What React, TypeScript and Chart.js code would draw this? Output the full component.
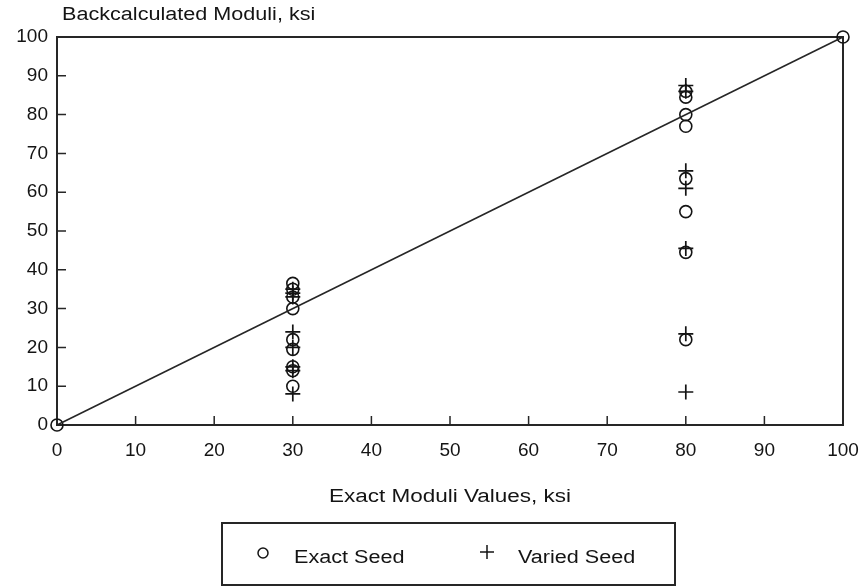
import React, { useEffect, useRef } from "react";
import { Chart, registerables } from "chart.js";

Chart.register(...registerables);

// ---- Data ----
const exactSeedCornerX = [0, 100];
const exactSeedCornerY = [0, 100];
const exactSeedAt30 = [36.5, 35, 33, 30, 22, 19.5, 15, 14, 10];
const variedSeedAt30 = [35, 34, 33, 24, 20, 15, 14, 8];
const exactSeedAt80 = [86, 84.5, 80, 77, 63.5, 55, 44.5, 22];
const variedSeedAt80 = [87.5, 86, 65.5, 61, 45.5, 23.5, 8.5];
const equalityLineX = [0, 100];
const equalityLineY = [0, 100];
const axisTicks = [10, 20, 30, 40, 50, 60, 70, 80, 90];

const xTitle = "Exact Moduli Values, ksi";
const yTitle = "Backcalculated Moduli, ksi";
const legendLabels = ["Exact Seed", "Varied Seed"];

const INK = "#141414";
const FONT = "'Liberation Sans', Arial, Helvetica, sans-serif";

function drawStretchedText(ctx: CanvasRenderingContext2D, text: string, x: number, y: number, size: number, sx: number, align: "left" | "center") {
  ctx.save();
  ctx.font = `${size}px ${FONT}`;
  ctx.fillStyle = INK;
  ctx.textBaseline = "middle";
  ctx.textAlign = "left";
  const w = ctx.measureText(text).width * sx;
  const left = align === "center" ? x - w / 2 : x;
  ctx.translate(left, y);
  ctx.scale(sx, 1);
  ctx.fillText(text, 0, 0);
  ctx.restore();
}

const framePlugin = {
  id: "frameAndTexts",
  beforeDatasetsDraw(chart: any) {
    const { ctx, chartArea, scales } = chart;
    ctx.save();
    ctx.strokeStyle = "#262626";
    ctx.lineWidth = 2;
    ctx.strokeRect(chartArea.left, chartArea.top, chartArea.right - chartArea.left, chartArea.bottom - chartArea.top);
    ctx.lineWidth = 1.5;
    ctx.beginPath();
    for (const v of axisTicks) {
      const px = scales.x.getPixelForValue(v);
      ctx.moveTo(px, chartArea.bottom);
      ctx.lineTo(px, chartArea.bottom - 9);
      const py = scales.y.getPixelForValue(v);
      ctx.moveTo(chartArea.left, py);
      ctx.lineTo(chartArea.left + 9, py);
    }
    ctx.stroke();
    ctx.restore();
  },
  afterDraw(chart: any) {
    const { ctx, chartArea } = chart;
    const cx = (chartArea.left + chartArea.right) / 2;
    drawStretchedText(ctx, yTitle, 62, 15, 18, 1.2, "left");
    drawStretchedText(ctx, xTitle, cx, 497, 18, 1.25, "center");

    // legend box
    ctx.save();
    ctx.strokeStyle = "#262626";
    ctx.lineWidth = 2;
    ctx.strokeRect(222, 523, 453, 62);
    ctx.lineWidth = 1.5;
    ctx.strokeStyle = INK;
    ctx.beginPath();
    ctx.arc(263, 553, 5, 0, Math.PI * 2);
    ctx.stroke();
    ctx.beginPath();
    ctx.moveTo(480, 552);
    ctx.lineTo(494, 552);
    ctx.moveTo(487, 545);
    ctx.lineTo(487, 559);
    ctx.stroke();
    ctx.restore();
    drawStretchedText(ctx, legendLabels[0], 294, 558, 18, 1.2, "left");
    drawStretchedText(ctx, legendLabels[1], 518, 558, 18, 1.2, "left");
  },
};

export default function App() {
  const canvasRef = useRef<HTMLCanvasElement | null>(null);

  useEffect(() => {
    if (!canvasRef.current) return;
    const exactSeed = [
      { x: exactSeedCornerX[0], y: exactSeedCornerY[0] },
      ...exactSeedAt30.map((y) => ({ x: 30, y })),
      ...exactSeedAt80.map((y) => ({ x: 80, y })),
      { x: exactSeedCornerX[1], y: exactSeedCornerY[1] },
    ];
    const variedSeed = [
      ...variedSeedAt30.map((y) => ({ x: 30, y })),
      ...variedSeedAt80.map((y) => ({ x: 80, y })),
    ];
    const line = equalityLineX.map((x, i) => ({ x, y: equalityLineY[i] }));

    const tickFont = { family: FONT, size: 19 };
    const chart = new Chart(canvasRef.current, {
      type: "scatter",
      data: {
        datasets: [
          {
            label: "Equality",
            data: line,
            showLine: true,
            borderColor: "#262626",
            borderWidth: 1.6,
            pointRadius: 0,
            clip: false,
          } as any,
          {
            label: legendLabels[0],
            data: exactSeed,
            pointStyle: "circle",
            pointRadius: 6,
            borderColor: INK,
            backgroundColor: "rgba(0,0,0,0)",
            borderWidth: 1.6,
            clip: false,
          } as any,
          {
            label: legendLabels[1],
            data: variedSeed,
            pointStyle: "cross",
            pointRadius: 7.5,
            borderColor: INK,
            borderWidth: 1.7,
            clip: false,
          } as any,
        ],
      },
      options: {
        responsive: false,
        animation: false,
        devicePixelRatio: 1,
        layout: { padding: { top: 37, right: 23, left: 0, bottom: 0 } },
        plugins: { legend: { display: false }, tooltip: { enabled: false } },
        scales: {
          x: {
            type: "linear",
            min: 0,
            max: 100,
            ticks: { stepSize: 10, font: tickFont, color: INK, padding: 14, maxRotation: 0 },
            grid: { display: false, drawTicks: false },
            border: { display: false },
            afterFit: (s: any) => {
              s.height = 162;
              s.paddingLeft = 0;
              s.paddingRight = 0;
            },
          },
          y: {
            type: "linear",
            min: 0,
            max: 100,
            ticks: { stepSize: 10, font: tickFont, color: INK, padding: 9 },
            grid: { display: false, drawTicks: false },
            border: { display: false },
            afterFit: (s: any) => {
              s.width = 57;
              s.paddingTop = 0;
              s.paddingBottom = 0;
            },
          },
        },
      },
      plugins: [framePlugin],
    });
    return () => chart.destroy();
  }, []);

  return (
    <div style={{ position: "fixed", left: 0, top: 0, width: 866, height: 587, background: "#fff" }}>
      <canvas ref={canvasRef} width={866} height={587} />
    </div>
  );
}
